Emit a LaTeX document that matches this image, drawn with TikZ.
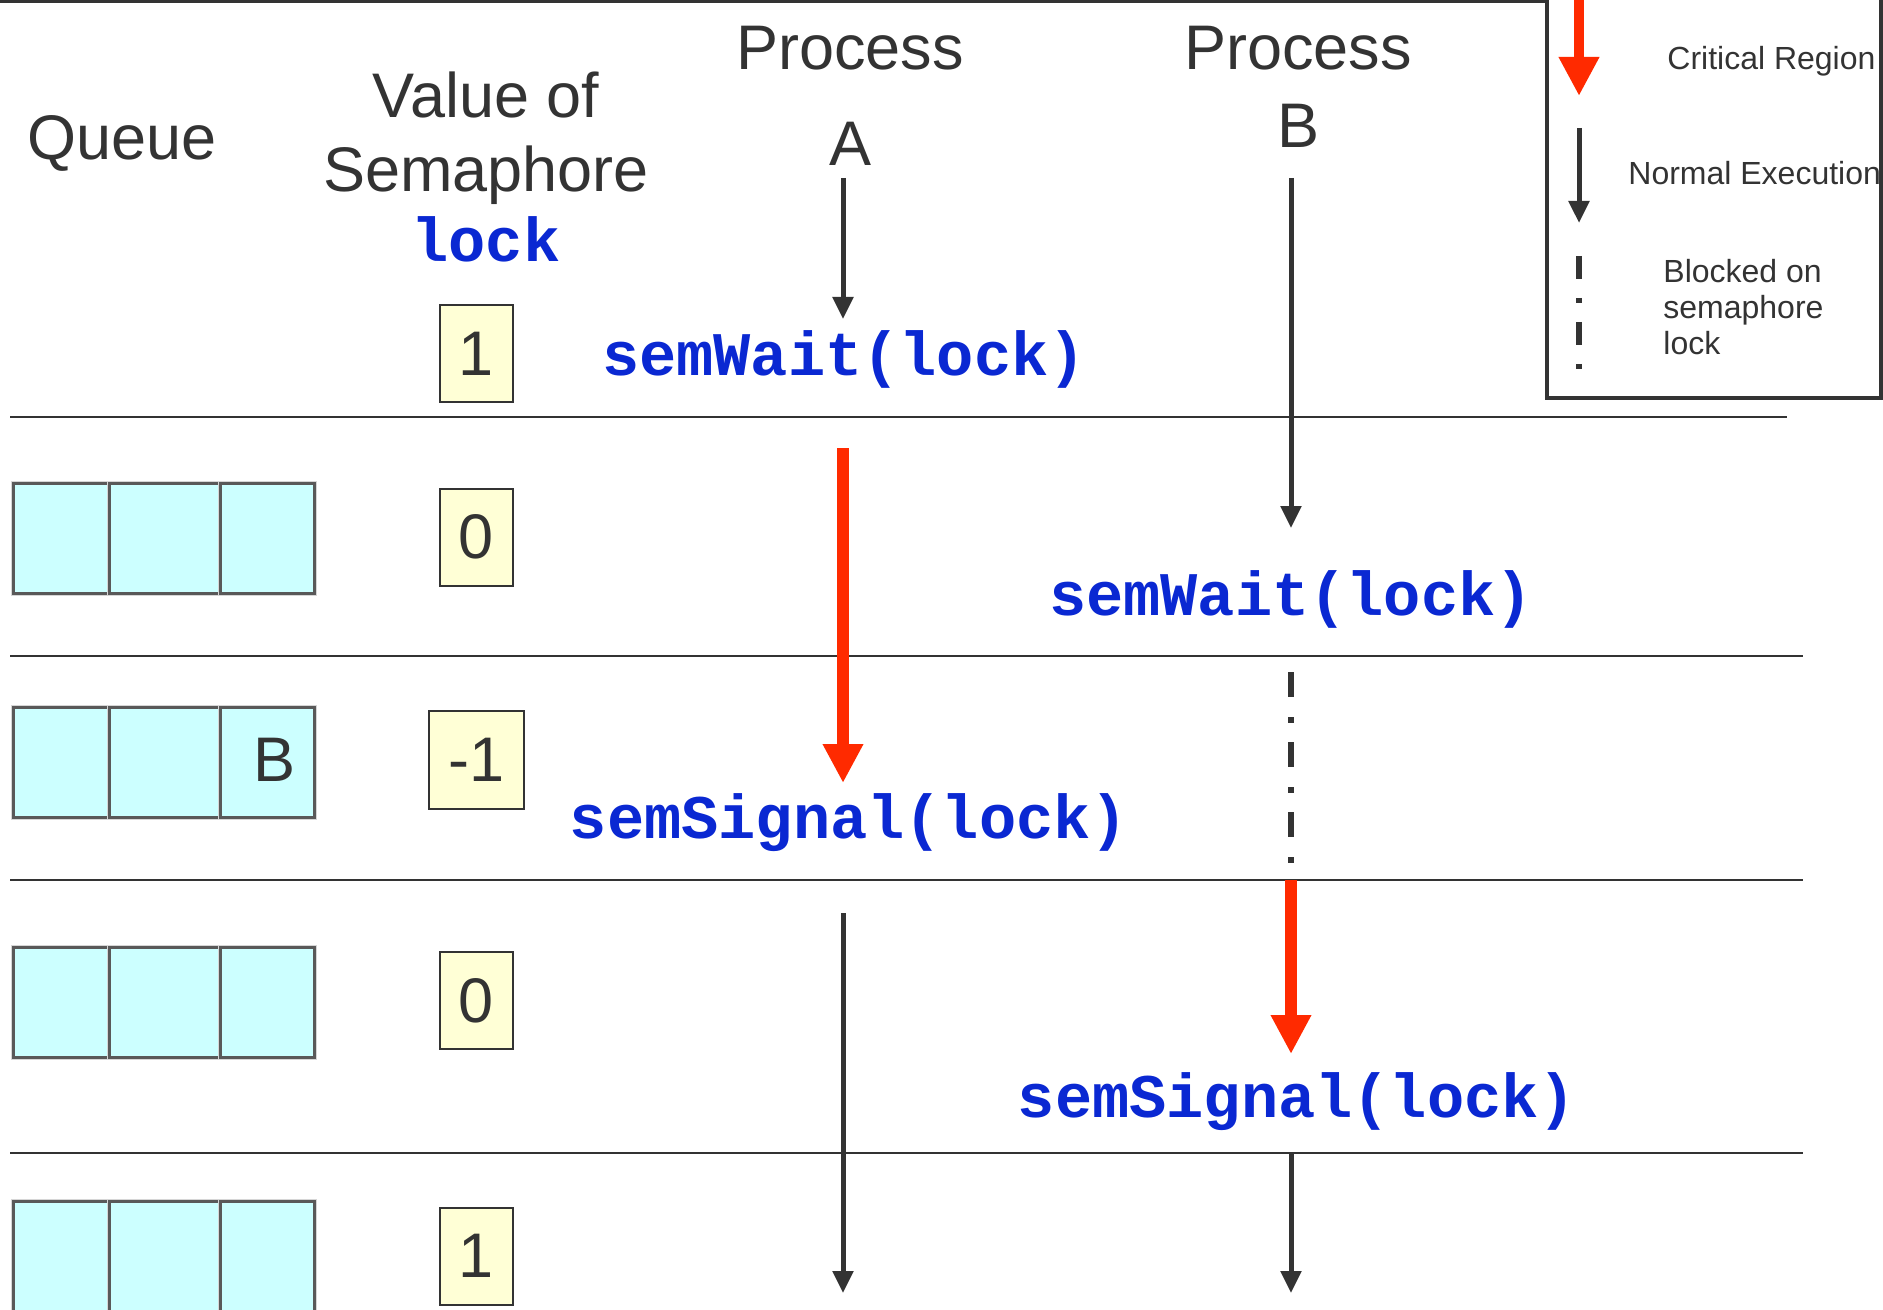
\documentclass[tikz,border=0pt]{standalone}
\usepackage{fontspec}
\setmainfont{Liberation Sans}
\newfontfamily\codefont{Liberation Mono}
\usetikzlibrary{arrows.meta}

\definecolor{ink}{HTML}{333333}
\definecolor{codeblue}{RGB}{10,40,210}
\definecolor{critred}{RGB}{255,42,0}
\definecolor{queuefill}{HTML}{CCFFFF}
\definecolor{valfill}{HTML}{FFFFD6}

\tikzset{
  head/.style={font=\fontsize{31.5}{38}\selectfont, text=ink, inner sep=0pt, anchor=base},
  code/.style={font=\codefont\bfseries\fontsize{31}{37}\selectfont, text=codeblue, inner sep=0pt, anchor=base},
  legendtxt/.style={font=\fontsize{16}{18}\selectfont, text=ink, inner sep=0pt, anchor=west, align=left},
  valbox/.style={draw=ink, line width=1pt, fill=valfill, minimum width=36.5pt, minimum height=48.5pt,
    inner sep=0pt, font=\fontsize{31.5}{38}\selectfont, text=ink},
  qcell/.style={fill=queuefill, draw=black!65, line width=1.25pt, minimum height=55pt, inner sep=0pt,
    anchor=north west, preaction={draw=black!16, line width=2.75pt}},
  sep/.style={draw=ink, line width=1pt},
  normalrun/.style={draw=ink, line width=2.5pt, -{Triangle[length=11pt,width=10pt]}},
  critical/.style={draw=critred, line width=6pt, -{Triangle[length=19.5pt,width=19pt]}},
  blocked/.style={draw=ink, line width=3pt, dash pattern=on 12.5pt off 10pt on 3pt off 9.5pt},
}

\begin{document}
\begin{tikzpicture}[x=0.5pt, y=-0.5pt]
  \useasboundingbox (0,0) rectangle (1883,1310);

  % frame: top rule and legend box
  \draw[ink, line width=1.5pt] (0,1.5) -- (1547,1.5);
  \draw[ink, line width=2pt] (1547,-10) -- (1547,398) -- (1881,398) -- (1881,-10);

  % column headings
  \node[head] (hq) at (122,160) {Queue};
  \node[head] (hv1) at (486,118) {Value of};
  \node[head] (hv2) at (486,192) {Semaphore};
  \node[code] (hv3) at (486,262) {lock};
  \node[head] (hpa) at (850,70) {Process};
  \node[head] (hpaa) at (850,166) {A};
  \node[head] (hpb) at (1298,70) {Process};
  \node[head] (hpbb) at (1298,148) {B};

  % row separators
  \draw[sep] (10,417) -- (1787,417);
  \draw[sep] (10,656) -- (1803,656);
  \draw[sep] (10,880) -- (1803,880);
  \draw[sep] (10,1153) -- (1803,1153);

  % queue contents per row
  \foreach \r/\y in {2/482, 3/706, 4/946, 5/1200} {
    \node[qcell, minimum width=48pt] (q\r a) at (12,\y) {};
    \node[qcell, minimum width=55.5pt] (q\r b) at (108,\y) {};
    \node[qcell, minimum width=47pt] (q\r c) at (219,\y) {};
  }
  \node[head, anchor=center] (qB) at (275,760) {B};

  % semaphore values
  \node[valbox] (v1) at (476.5,353.5) {1};
  \node[valbox] (v2) at (476.5,537) {0};
  \node[valbox, minimum width=47.5pt, minimum height=49pt] (v3) at (476.5,760) {-1};
  \node[valbox] (v4) at (476.5,1000.5) {0};
  \node[valbox] (v5) at (476.5,1256) {1};

  % operations
  \node[code] (waitA) at (844,375) {semWait(lock)};
  \node[code] (waitB) at (1291,615) {semWait(lock)};
  \node[code] (sigA) at (849,838) {semSignal(lock)};
  \node[code] (sigB) at (1297,1117) {semSignal(lock)};

  % timeline anchor points
  \coordinate (a0) at (843,178);
  \coordinate (a1) at (843,319);
  \coordinate (a2) at (843,448);
  \coordinate (a3) at (843,783);
  \coordinate (a4) at (843,913);
  \coordinate (a5) at (843,1293);
  \coordinate (b0) at (1291,178);
  \coordinate (b1) at (1291,528);
  \coordinate (b2) at (1291,672);
  \coordinate (b3) at (1291,880);
  \coordinate (b4) at (1291,1054);
  \coordinate (b5) at (1291,1153);
  \coordinate (b6) at (1291,1293);

  % process A
  \draw[normalrun] (a0) -- (a1);
  \draw[critical] (a2) -- (a3);
  \draw[normalrun] (a4) -- (a5);

  % process B
  \draw[normalrun] (b0) -- (b1);
  \draw[blocked] (b2) -- (b3);
  \draw[critical] (b3) -- (b4);
  \draw[normalrun] (b5) -- (b6);

  % legend
  \coordinate (l0) at (1579,-5);
  \coordinate (l1) at (1579,96);
  \coordinate (l2) at (1579,128);
  \coordinate (l3) at (1579,223);
  \coordinate (l4) at (1579,256);
  \coordinate (l5) at (1579,372);
  \draw[critical, line width=5pt] (l0) -- (l1);
  \draw[normalrun] (l2) -- (l3);
  \draw[blocked, dash pattern=on 11.5pt off 9.5pt on 2.5pt off 9.5pt] (l4) -- (l5);
  \node[legendtxt] (lcrit) at (1667,61) {Critical Region};
  \node[legendtxt] (lnorm) at (1628,173) {Normal Execution};
  \node[legendtxt] (lblock) at (1663,307) {Blocked on\\semaphore\\lock};
\end{tikzpicture}
\end{document}
